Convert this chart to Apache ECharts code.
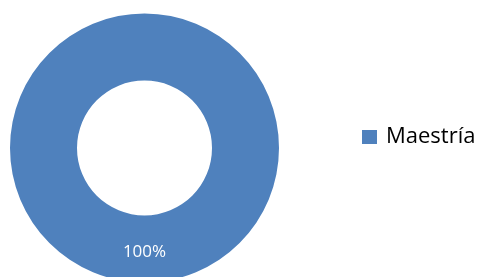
<!DOCTYPE html>
<html>
<head>
<meta charset="utf-8">
<script src="https://cdn.jsdelivr.net/npm/echarts@6/dist/echarts.min.js"></script>
<style>
  html, body { margin: 0; padding: 0; background: #fff; }
  #chart { width: 480px; height: 277px; }
</style>
</head>
<body>
<div id="chart"></div>
<script>
const categories = ['Maestría']
const values = [100]

const chart = echarts.init(document.getElementById('chart'))

const option = {
  animation: false,
  color: ['#4F81BD'],
  legend: {
    orient: 'vertical',
    left: 362,
    top: 126,
    padding: 0,
    itemWidth: 15,
    itemHeight: 14,
    icon: 'rect',
    textStyle: { fontSize: 22, color: '#000', fontFamily: 'Open Sans', padding: [0, 0, 0, 4] },
    data: categories
  },
  series: [{
    type: 'pie',
    center: [144.5, 148],
    radius: [67.5, 134.5],
    startAngle: 90,
    silent: true,
    label: {
      show: true,
      position: 'inside',
      color: '#fff',
      fontSize: 17,
      fontFamily: 'Open Sans',
      formatter: '{d}%'
    },
    labelLine: { show: false },
    data: categories.map((name, i) => ({ name, value: values[i] }))
  }]
}

chart.setOption(option)
</script>
</body>
</html>
